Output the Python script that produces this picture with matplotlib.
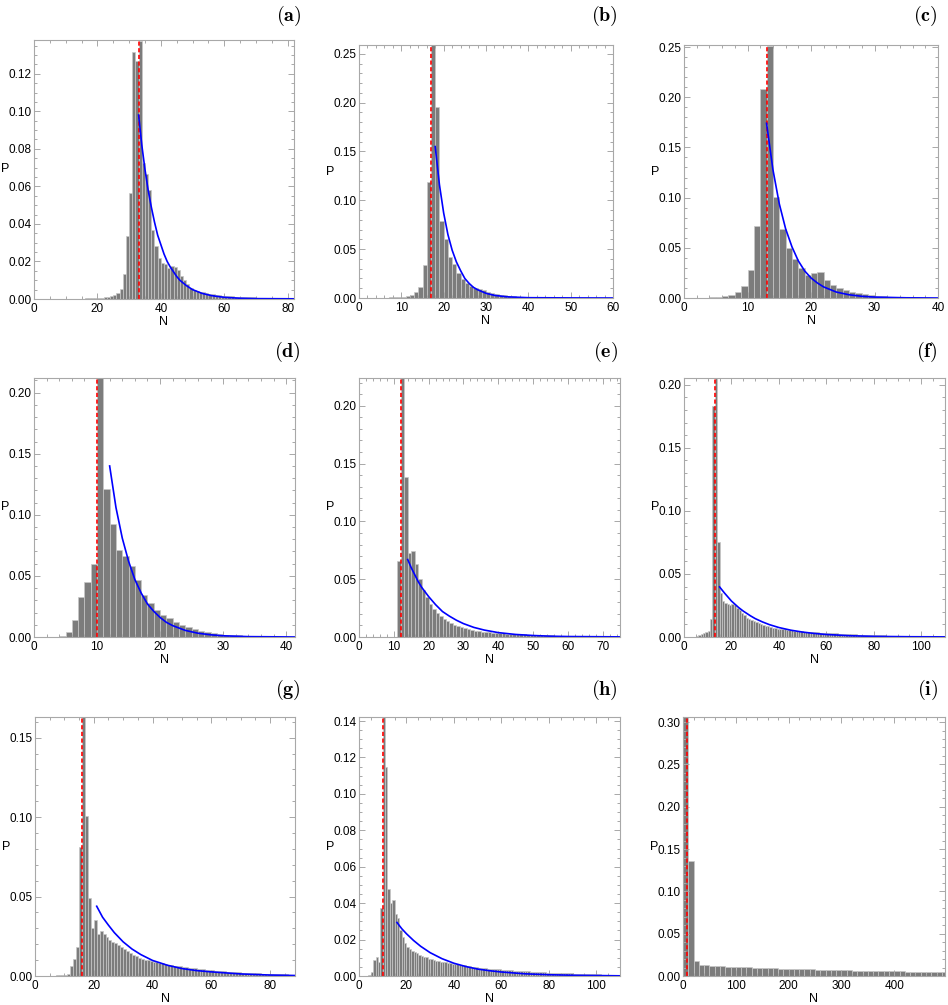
import numpy as np
import matplotlib.pyplot as plt
from matplotlib.ticker import MultipleLocator, FormatStrFormatter

plt.rcParams['font.family'] = ['Liberation Sans', 'DejaVu Sans']
plt.rcParams['mathtext.fontset'] = 'cm'

# ---- data: P per bin, first bin starts at N = 0 ----
a_p = [0, 0, 0, 0, 0, 0.0002, 0.0002, 0.0002, 0.0002, 0.0002, 0.0002, 0.0002, 0.0002,
       0.0002, 0.0002, 0.0002, 0.0003, 0.0003, 0.0003, 0.0004, 0.0005, 0.0006, 0.0008,
       0.001, 0.0014, 0.002, 0.0032, 0.0055, 0.0134, 0.0335, 0.0567, 0.1316, 0.127,
       0.1373, 0.0727, 0.0665, 0.058, 0.0365, 0.028, 0.022, 0.019, 0.0184, 0.0166,
       0.0178, 0.017, 0.0152, 0.0125, 0.0103, 0.008, 0.0059, 0.005, 0.0045, 0.0039,
       0.0036, 0.0032, 0.0029, 0.0026, 0.0023, 0.002, 0.0018, 0.0016, 0.0015, 0.0014,
       0.0013, 0.0012, 0.0011, 0.001, 0.0009, 0.0008, 0.0008, 0.0007, 0.0006, 0.0006,
       0.0005, 0.0005, 0.0004, 0.0004, 0.0003, 0.0003, 0.0002, 0.0002, 0.0002]
a_mode = 33
a_fit_n = [33, 34, 35, 36, 37, 38, 39, 40, 41, 42, 43, 44, 45, 46, 48, 50, 53, 56, 60, 65, 70, 82]
a_fit_p = [0.098, 0.082, 0.069, 0.058, 0.049, 0.041, 0.034, 0.029, 0.024, 0.020, 0.017,
           0.0145, 0.012, 0.010, 0.0072, 0.0050, 0.0030, 0.0018, 0.0009, 0.0004, 0.0002, 0.0001]

b_p = [0, 0, 0.0001, 0.0001, 0.0002, 0.0003, 0.0004, 0.0006, 0.0008, 0.001, 0.0013,
       0.002, 0.0034, 0.006, 0.0112, 0.0333, 0.119, 0.262, 0.196, 0.079, 0.0605, 0.042,
       0.035, 0.0255, 0.0197, 0.0157, 0.0122, 0.0105, 0.0095, 0.0078, 0.0061, 0.005,
       0.004, 0.0034, 0.0028, 0.0022, 0.0018, 0.0015, 0.0012, 0.001, 0.0008, 0.0007,
       0.0006, 0.0005, 0.0005, 0.0004, 0.0003, 0.0003, 0.0003, 0.0002, 0.0002, 0.0002,
       0.0002, 0.0001, 0.0001, 0.0001, 0.0001, 0.0001, 0.0001, 0.0001]
b_mode = 17
b_fit_n = [18, 19, 20, 21, 22, 23, 24, 25, 26, 27, 28, 30, 32, 35, 40, 50, 60]
b_fit_p = [0.155, 0.116, 0.087, 0.065, 0.049, 0.037, 0.028, 0.020, 0.015, 0.011, 0.0085,
           0.0048, 0.0027, 0.0012, 0.0003, 0.0001, 0.0]

c_p = [0, 0, 0.0001, 0.0003, 0.0007, 0.0012, 0.002, 0.0033, 0.006, 0.0123, 0.0282,
       0.0714, 0.208, 0.2513, 0.1003, 0.0687, 0.0498, 0.0388, 0.030, 0.0225, 0.025,
       0.0255, 0.018, 0.0125, 0.0095, 0.0075, 0.006, 0.0045, 0.0035, 0.0027, 0.002,
       0.0015, 0.0012, 0.001, 0.0008, 0.0006, 0.0005, 0.0004, 0.0003, 0.0002]
c_mode = 13
c_fit_n = [13, 14, 15, 16, 17, 18, 19, 20, 21, 22, 24, 26, 28, 30, 35, 40]
c_fit_p = [0.174, 0.128, 0.094, 0.069, 0.051, 0.037, 0.027, 0.020, 0.015, 0.011, 0.0059,
           0.0032, 0.0017, 0.0009, 0.0002, 0.0]

d_p = [0, 0, 0.0001, 0.0003, 0.0008, 0.004, 0.0137, 0.0329, 0.0449, 0.0595, 0.215,
       0.1214, 0.0923, 0.0715, 0.0665, 0.058, 0.047, 0.034, 0.028, 0.0225, 0.018,
       0.0155, 0.0125, 0.01, 0.008, 0.0065, 0.005, 0.004, 0.0033, 0.0027, 0.002,
       0.0016, 0.0013, 0.001, 0.0008, 0.0006, 0.0005, 0.0004, 0.0003, 0.0002, 0.0002, 0.0001]
d_mode = 10
d_fit_n = [12, 13, 14, 15, 16, 17, 18, 19, 20, 21, 22, 24, 26, 28, 30, 34, 42]
d_fit_p = [0.140, 0.106, 0.081, 0.062, 0.047, 0.036, 0.027, 0.021, 0.016, 0.012, 0.0093,
           0.0054, 0.0031, 0.0018, 0.0010, 0.0003, 0.0]

e_p = [0, 0, 0, 0, 0.0002, 0.0002, 0.0002, 0.0002, 0.0002, 0.0003, 0.0003, 0.0655,
       0.228, 0.1385, 0.0727, 0.0742, 0.0629, 0.0505, 0.0404, 0.0346, 0.0289, 0.0245,
       0.0208, 0.0179, 0.0159, 0.0139, 0.0121, 0.0107, 0.0092, 0.0084, 0.0075, 0.0066,
       0.006, 0.0055, 0.0049, 0.0046, 0.0043, 0.004, 0.0037, 0.0035, 0.0033, 0.0031,
       0.0029, 0.0027, 0.0026, 0.0025, 0.0023, 0.0022, 0.0021, 0.002, 0.0019, 0.0017,
       0.0016, 0.0015, 0.0014, 0.0013, 0.0012, 0.0011, 0.0011, 0.001, 0.0009, 0.0009,
       0.0008, 0.0008, 0.0007, 0.0007, 0.0006, 0.0006, 0.0005, 0.0005, 0.0005, 0.0004,
       0.0004, 0.0004, 0.0003]
e_mode = 12
e_fit_n = [14, 15, 16, 17, 18, 19, 20, 22, 24, 26, 28, 30, 33, 36, 40, 45, 50, 55, 60, 75]
e_fit_p = [0.067, 0.060, 0.054, 0.048, 0.043, 0.039, 0.035, 0.028, 0.022, 0.018, 0.0145,
           0.0116, 0.0083, 0.006, 0.0038, 0.0022, 0.0013, 0.0007, 0.0004, 0.0001]

f_p = [0, 0, 0, 0, 0.0002, 0.0005, 0.0013, 0.0026, 0.0032, 0.004, 0.0048, 0.0146,
       0.1833, 0.21, 0.0755, 0.035, 0.0286, 0.0273, 0.026, 0.0257, 0.0265, 0.0252,
       0.0233, 0.0212, 0.0191, 0.0172, 0.0154, 0.0143, 0.0132, 0.0125, 0.0117, 0.0109,
       0.0101, 0.0095, 0.009, 0.0085, 0.008, 0.0074, 0.0072, 0.0066, 0.0064, 0.0062,
       0.006, 0.0058, 0.0055, 0.0053, 0.0051, 0.0049, 0.0047, 0.0045, 0.0043, 0.0042,
       0.0041, 0.004, 0.0039, 0.0038, 0.0036, 0.0035, 0.0034, 0.0033, 0.0032, 0.0031,
       0.003, 0.0029, 0.0028, 0.0027, 0.0026, 0.0025, 0.0024, 0.0023, 0.0022, 0.0021,
       0.002, 0.0019, 0.0018, 0.0018, 0.0017, 0.0016, 0.0015, 0.0015, 0.0014, 0.0013,
       0.0013, 0.0012, 0.0012, 0.0011, 0.0011, 0.001, 0.001, 0.0009, 0.0009, 0.0008,
       0.0008, 0.0008, 0.0007, 0.0007, 0.0006, 0.0006, 0.0006, 0.0005, 0.0005, 0.0005,
       0.0004, 0.0004, 0.0004, 0.0004, 0.0003, 0.0003, 0.0003, 0.0003]
f_mode = 13
f_fit_n = [15, 17, 20, 23, 25, 28, 30, 33, 36, 40, 45, 50, 55, 60, 70, 80, 95, 110]
f_fit_p = [0.0397, 0.035, 0.0285, 0.0234, 0.0205, 0.0168, 0.0146, 0.012, 0.0098, 0.0075,
           0.0054, 0.0039, 0.0028, 0.002, 0.001, 0.0005, 0.0002, 0.0001]

g_p = [0, 0, 0, 0, 0.0001, 0.0002, 0.0003, 0.0004, 0.0005, 0.0006, 0.0008, 0.0015,
       0.0061, 0.0107, 0.018, 0.081, 0.165, 0.1005, 0.0491, 0.030, 0.0355, 0.0264,
       0.0285, 0.0264, 0.0243, 0.0227, 0.0216, 0.0206, 0.0195, 0.018, 0.017, 0.0157,
       0.0145, 0.0134, 0.0124, 0.0115, 0.0109, 0.0103, 0.0099, 0.0094, 0.0088, 0.0085,
       0.0082, 0.0079, 0.0076, 0.0072, 0.0069, 0.0066, 0.0063, 0.006, 0.0057, 0.0054,
       0.0052, 0.005, 0.0048, 0.0046, 0.0044, 0.0042, 0.004, 0.0038, 0.0036, 0.0034,
       0.0033, 0.0031, 0.003, 0.0028, 0.0027, 0.0026, 0.0024, 0.0023, 0.0022, 0.0021,
       0.002, 0.0019, 0.0018, 0.0017, 0.0016, 0.0015, 0.0015, 0.0014, 0.0013, 0.0012,
       0.0012, 0.0011, 0.001, 0.001, 0.0009, 0.0009, 0.0008]
g_mode = 16
g_fit_n = [21, 23, 25, 27, 30, 33, 36, 40, 45, 50, 55, 60, 70, 80, 89]
g_fit_p = [0.0439, 0.037, 0.032, 0.0273, 0.0215, 0.017, 0.0135, 0.0098, 0.0068, 0.0047,
           0.0034, 0.0026, 0.0013, 0.0006, 0.0003]

h_p = [0, 0, 0, 0, 0.0005, 0.002, 0.0087, 0.0105, 0.0075, 0.0373, 0.142, 0.1149,
       0.0478, 0.0401, 0.0419, 0.034, 0.0318, 0.0253, 0.0212, 0.0179, 0.016, 0.0146,
       0.0137, 0.0131, 0.0124, 0.0114, 0.0109, 0.0105, 0.0102, 0.0096, 0.0092, 0.0089,
       0.0085, 0.0081, 0.0079, 0.0077, 0.0075, 0.0072, 0.007, 0.0068, 0.0066, 0.0064,
       0.0062, 0.006, 0.0058, 0.0056, 0.0054, 0.0052, 0.005, 0.0048, 0.0046, 0.0044,
       0.0043, 0.0042, 0.0041, 0.004, 0.0039, 0.0038, 0.0037, 0.0036, 0.0035, 0.0034,
       0.0033, 0.0032, 0.0031, 0.003, 0.0029, 0.0028, 0.0028, 0.0027, 0.0026, 0.0025,
       0.0024, 0.0024, 0.0023, 0.0022, 0.0021, 0.0021, 0.002, 0.0019, 0.0018, 0.0018,
       0.0017, 0.0017, 0.0016, 0.0016, 0.0015, 0.0015, 0.0014, 0.0014, 0.0013, 0.0013,
       0.0012, 0.0012, 0.0011, 0.0011, 0.001, 0.001, 0.001, 0.0009, 0.0009, 0.0009,
       0.0008, 0.0008, 0.0008, 0.0007, 0.0007, 0.0007, 0.0006, 0.0006]
h_mode = 10
h_fit_n = [16, 18, 20, 23, 26, 30, 35, 40, 45, 50, 55, 60, 70, 80, 90, 110]
h_fit_p = [0.0294, 0.026, 0.0232, 0.0195, 0.0163, 0.0128, 0.0095, 0.007, 0.0052, 0.0038,
           0.0029, 0.0022, 0.0012, 0.0007, 0.0004, 0.0001]

# panel (i) uses bins of width 10
i_p = [0.31, 0.1358, 0.0175, 0.0135, 0.0127, 0.0122, 0.0118, 0.0115, 0.0112, 0.0108,
       0.0105, 0.0103, 0.0101, 0.0099, 0.0097, 0.0095, 0.0092, 0.009, 0.0088, 0.0086,
       0.0084, 0.0082, 0.008, 0.0079, 0.0077, 0.0075, 0.0074, 0.0072, 0.007, 0.0069,
       0.0067, 0.0066, 0.0064, 0.0063, 0.0062, 0.006, 0.0059, 0.0058, 0.0057, 0.0056,
       0.0055, 0.0054, 0.0053, 0.0052, 0.0051, 0.005, 0.0049, 0.0048, 0.0047, 0.0046]
i_mode = 8

panels = {
    'a': (a_p, 1, a_mode, a_fit_n, a_fit_p),
    'b': (b_p, 1, b_mode, b_fit_n, b_fit_p),
    'c': (c_p, 1, c_mode, c_fit_n, c_fit_p),
    'd': (d_p, 1, d_mode, d_fit_n, d_fit_p),
    'e': (e_p, 1, e_mode, e_fit_n, e_fit_p),
    'f': (f_p, 1, f_mode, f_fit_n, f_fit_p),
    'g': (g_p, 1, g_mode, g_fit_n, g_fit_p),
    'h': (h_p, 1, h_mode, h_fit_n, h_fit_p),
    'i': (i_p, 10, i_mode, None, None),
}

# ---- layout: axes box in pixels (left, top, right, bottom), limits, tick steps ----
FIG_W, FIG_H = 948, 1005
layout = {
    'a': ((34, 40, 294, 299), 82, 0.138, 20, 5, 0.02, 0.005),
    'b': ((359, 45, 613, 298), 60, 0.259, 10, 2, 0.05, 0.01),
    'c': ((684, 45, 938, 298), 40, 0.252, 10, 2, 0.05, 0.01),
    'd': ((34, 378, 295, 637), 41.4, 0.212, 10, 2, 0.05, 0.01),
    'e': ((359, 378, 620, 637), 75, 0.224, 10, 2, 0.05, 0.01),
    'f': ((684, 378, 945, 637), 110, 0.2053, 20, 5, 0.05, 0.01),
    'g': ((35, 717, 295, 976), 88.5, 0.163, 20, 5, 0.05, 0.01),
    'h': ((359, 717, 620, 976), 110, 0.1422, 20, 5, 0.02, 0.005),
    'i': ((683, 717, 945, 976), 496, 0.306, 100, 20, 0.05, 0.01),
}
label_y = {0: 16, 1: 352, 2: 690}
label_right = {0: 301, 1: 618, 2: 938}

BAR = '#7c7c7c'
EDGE = '#c8c8c8'
FRAME = '#a8a8a8'

fig = plt.figure(figsize=(FIG_W / 100, FIG_H / 100), dpi=100)

for k, tag in enumerate(panels):
    p, width, mode, fit_n, fit_p = panels[tag]
    (left, top, right, bottom), xmax, ymax, xmaj, xmin, ymaj, ymin = layout[tag]
    w_px, h_px = right - left, bottom - top
    ax = fig.add_axes([left / FIG_W, 1 - bottom / FIG_H, w_px / FIG_W, h_px / FIG_H])

    n = np.arange(len(p)) * width
    ax.bar(n, p, width=width, align='edge', color=BAR, edgecolor=EDGE, linewidth=0.5)
    ax.axvline(mode, color='red', linestyle=(0, (2.5, 1.5)), linewidth=1.2)
    if fit_n is not None:
        ax.plot(fit_n, fit_p, color='blue', linewidth=1.2)

    ax.set_xlim(0, xmax)
    ax.set_ylim(0, ymax)
    ax.xaxis.set_major_locator(MultipleLocator(xmaj))
    ax.xaxis.set_minor_locator(MultipleLocator(xmin))
    ax.yaxis.set_major_locator(MultipleLocator(ymaj))
    ax.yaxis.set_minor_locator(MultipleLocator(ymin))
    ax.yaxis.set_major_formatter(FormatStrFormatter('%.2f'))
    ax.tick_params(which='both', direction='in', top=True, right=True,
                   color=FRAME, labelsize=8.5, width=0.7)
    ax.tick_params(which='major', length=4)
    ax.tick_params(which='minor', length=2)
    ax.tick_params(axis='y', pad=1.5)
    ax.tick_params(axis='x', pad=3)
    for s in ax.spines.values():
        s.set_color(FRAME)
        s.set_linewidth(0.8)

    ax.set_ylabel('P', rotation=0, fontsize=9, ha='center', va='center')
    ax.yaxis.set_label_coords(-29 / w_px, 0.5)
    ax.set_xlabel('N', fontsize=9, va='center')
    ax.xaxis.set_label_coords(0.5, -23 / h_px)

    row = k // 3
    fig.text(label_right[k % 3] / FIG_W, 1 - label_y[row] / FIG_H,
             r'$\mathbf{(' + tag + ')}$', fontsize=14.5, ha='right', va='center')

fig.savefig('out.png', dpi=100)
